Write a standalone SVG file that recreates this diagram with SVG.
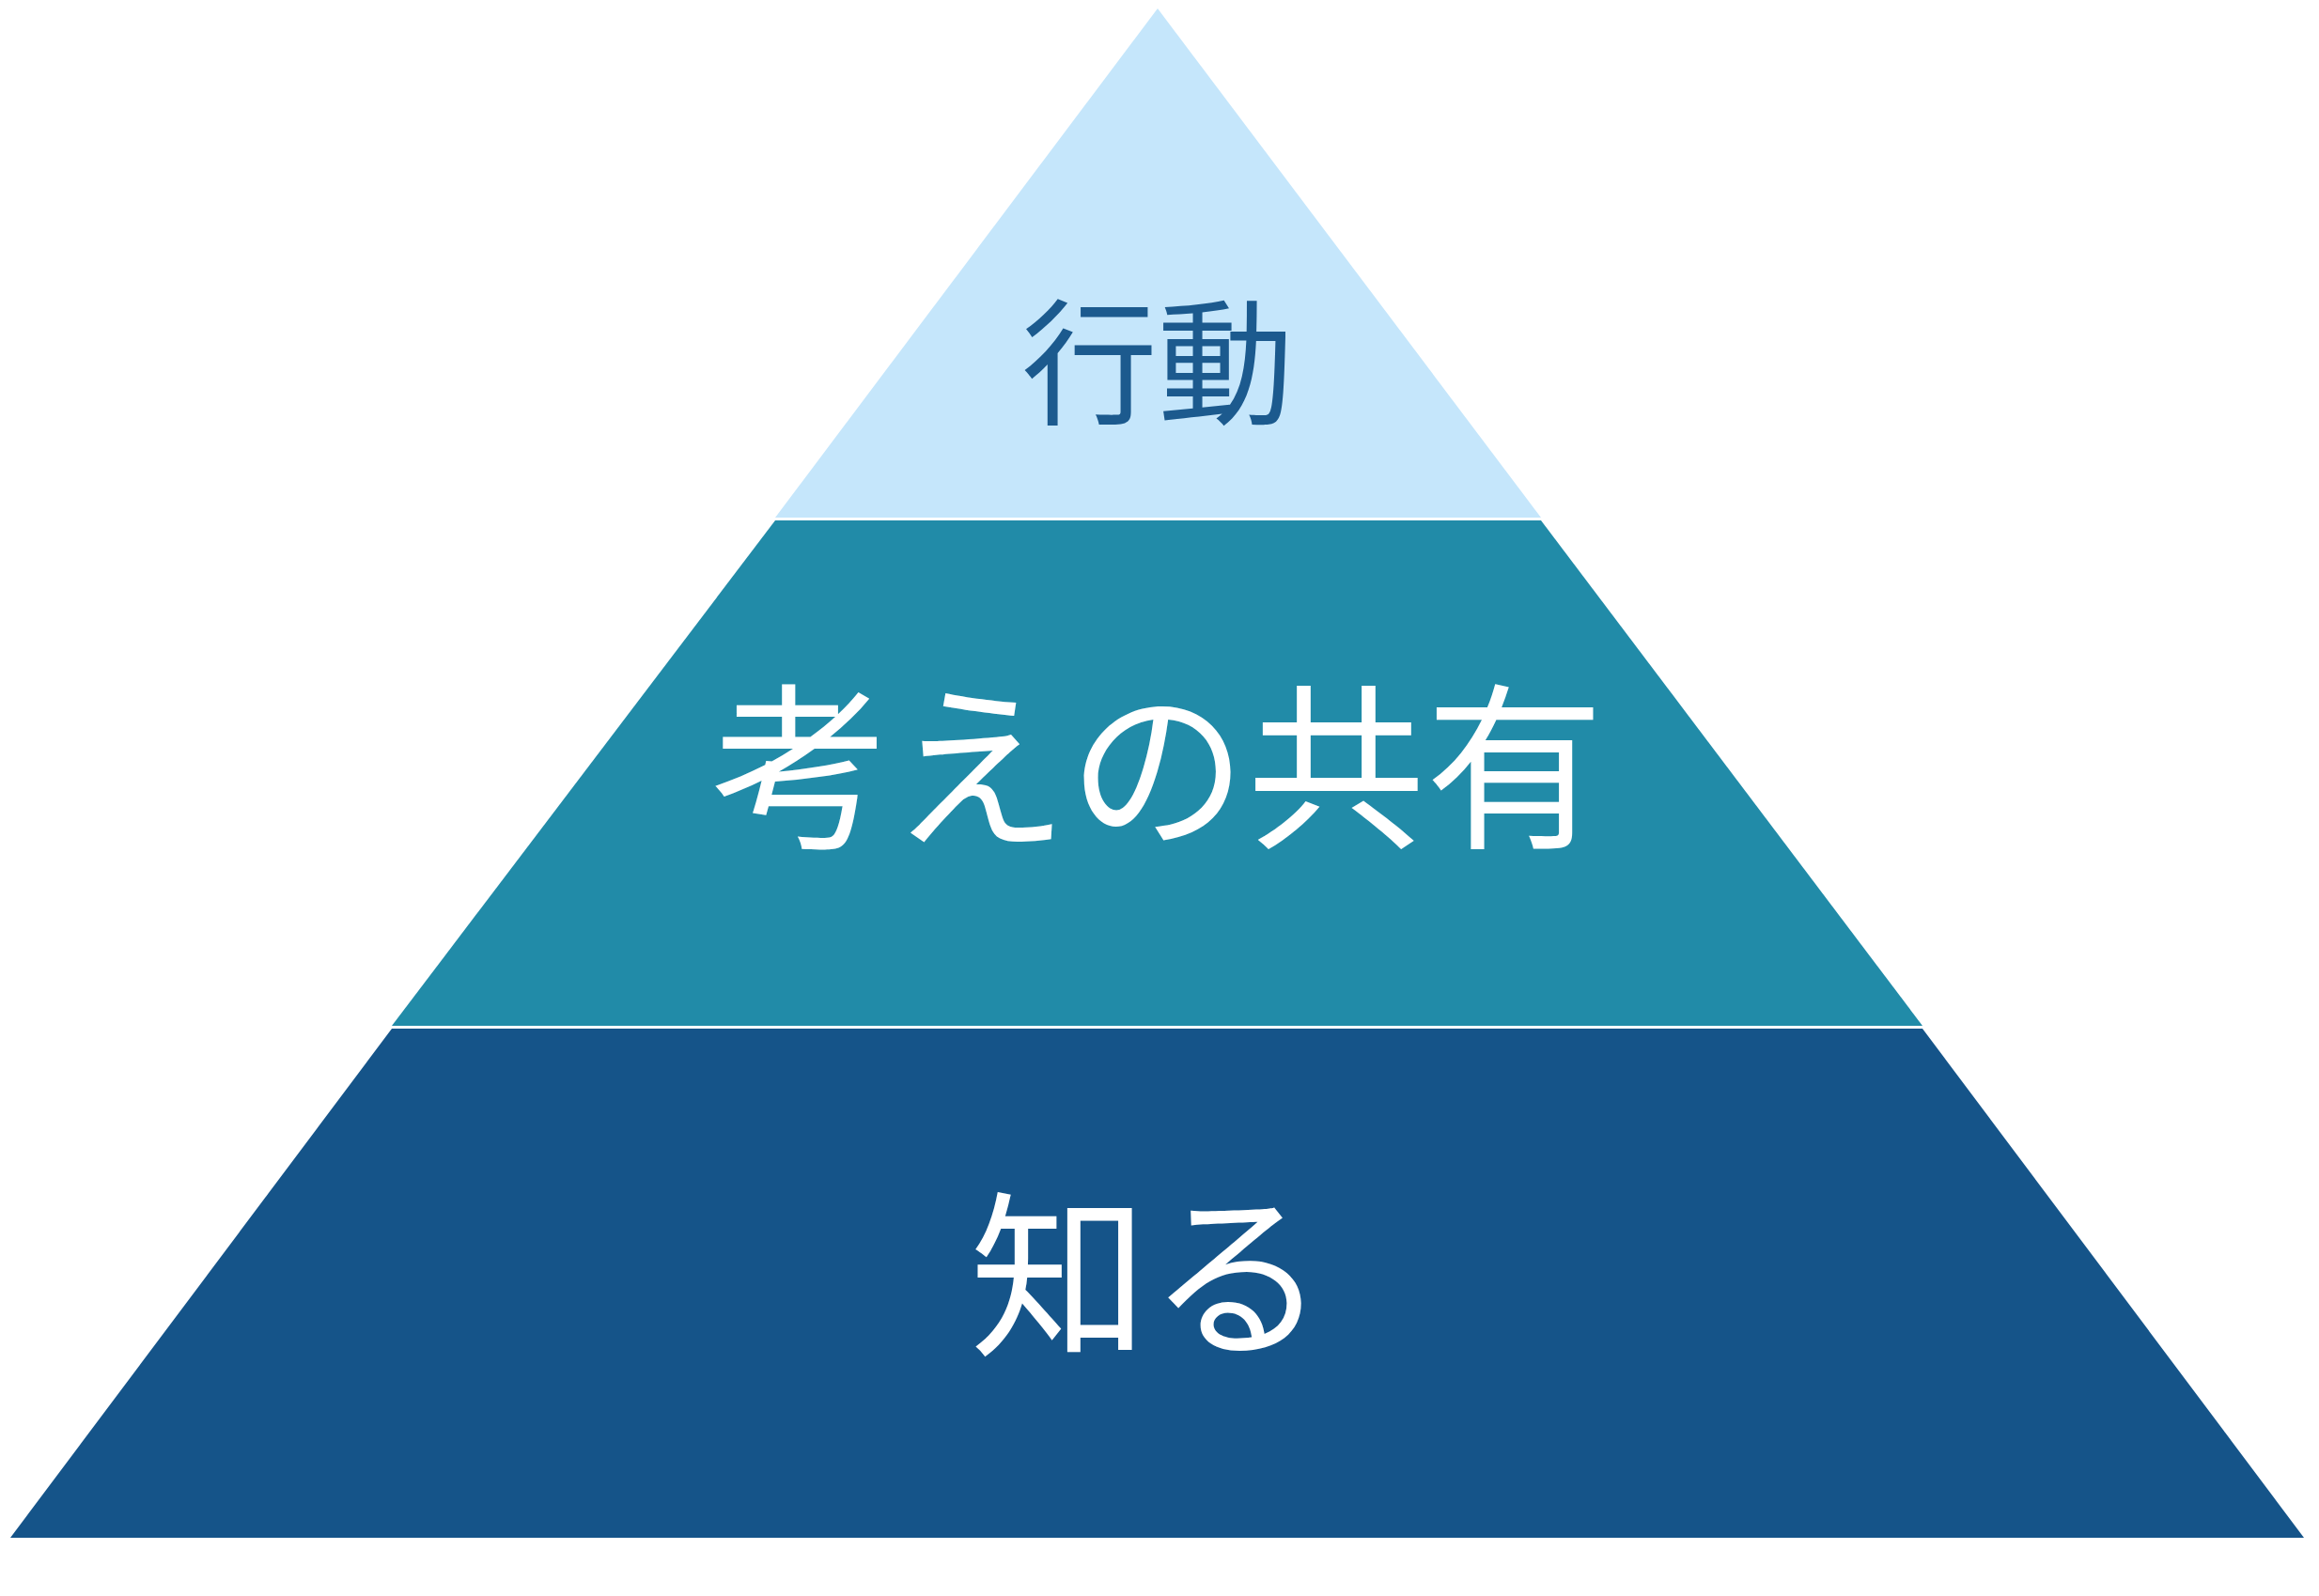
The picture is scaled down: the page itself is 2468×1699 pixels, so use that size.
<svg xmlns="http://www.w3.org/2000/svg" width="2468" height="1699" viewBox="0 0 2468 1699">
<style>
text{font-family:"Noto Sans CJK JP","Noto Sans",sans-serif;text-anchor:middle;dominant-baseline:central}
.w{fill:#ffffff;font-size:190px}
</style>
<rect width="2468" height="1699" fill="#ffffff"/>
<g id="top"><polygon points="1232,9 1640,551 825,551" fill="#c5e6fb"/><text x="1232" y="378" font-size="145" fill="#1c5a8e">行動</text></g>
<g id="middle"><polygon points="825,554 1640,554 2046,1092 417,1092" fill="#218ba8"/><text class="w" x="1232" y="805">考えの共有</text></g>
<g id="bottom"><polygon points="417,1095 2046,1095 2452,1637 11,1637" fill="#155489"/><text class="w" x="1222" y="1346">知る</text></g>
<g id="connectors"/>
</svg>
